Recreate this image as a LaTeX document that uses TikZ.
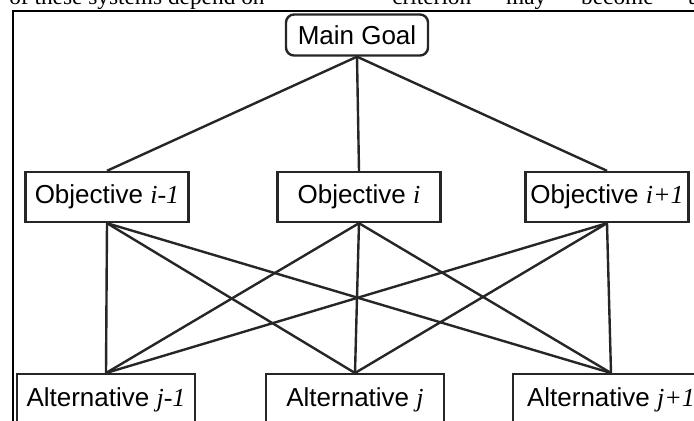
\documentclass[tikz,border=0pt]{standalone}
\usepackage{fontspec}
\setmainfont{Liberation Sans}
\newfontfamily\paperfont{Liberation Serif}
\usetikzlibrary{positioning}
\tikzset{>=latex}
\tikzset{
  boxfont/.style={font=\fontsize{19.5}{22}\selectfont},
  goalbox/.style={boxfont, draw=black!85, line width=1.8pt, fill=white,
    rounded corners=6pt, inner sep=0pt,
    minimum width=142*0.75pt, minimum height=41*0.75pt},
  objbox/.style={boxfont, draw=black!85, line width=1.8pt, fill=white,
    inner sep=0pt, minimum width=163*0.75pt, minimum height=50*0.75pt},
  altbox/.style={boxfont, draw=black!85, line width=1.8pt, fill=white,
    anchor=north, inner sep=0pt, minimum width=178*0.75pt,
    text height=24pt, text depth=30pt},
  link/.style={draw=black!85, line width=1.8pt},
  papertext/.style={anchor=base west, inner sep=0pt,
    font=\paperfont\fontsize{17.5}{20}\selectfont}
}
\newcommand{\idx}[1]{{\paperfont\itshape #1}}

\begin{document}
\begin{tikzpicture}[x=0.75pt, y=-0.75pt]
  \useasboundingbox (0,0) rectangle (694,421);
  % bits of the page text above the figure
  \node[papertext] (colleft) at (9,5) {of these systems depend on};
  \node[papertext] (colright) at (392,5)
    {\makebox[230pt][s]{criterion may become a}};
  % frame
  \draw[line width=2.2pt] (13,421) -- (13,11) -- (694,11);

  \node[goalbox] (goal) at (357,35) {Main Goal};

  \node[objbox] (obj1) at (107,197) {Objective \idx{i-1}};
  \node[objbox] (obj2) at (359,197) {Objective \idx{i}};
  \node[objbox] (obj3) at (607,197) {Objective \idx{i+1}};

  \node[altbox] (alt1) at (106,373) {Alternative \idx{j-1}};
  \node[altbox] (alt2) at (355,373) {Alternative \idx{j}};
  \node[altbox, minimum width=196*0.75pt] (alt3) at (611,373)
    {Alternative \idx{j+1}};

  \foreach \o in {1,2,3}
    \draw[link] (goal.south) -- (obj\o.north);
  \foreach \o in {1,2,3}
    \foreach \a in {1,2,3}
      \draw[link] (obj\o.south) -- (alt\a.north);
\end{tikzpicture}
\end{document}
